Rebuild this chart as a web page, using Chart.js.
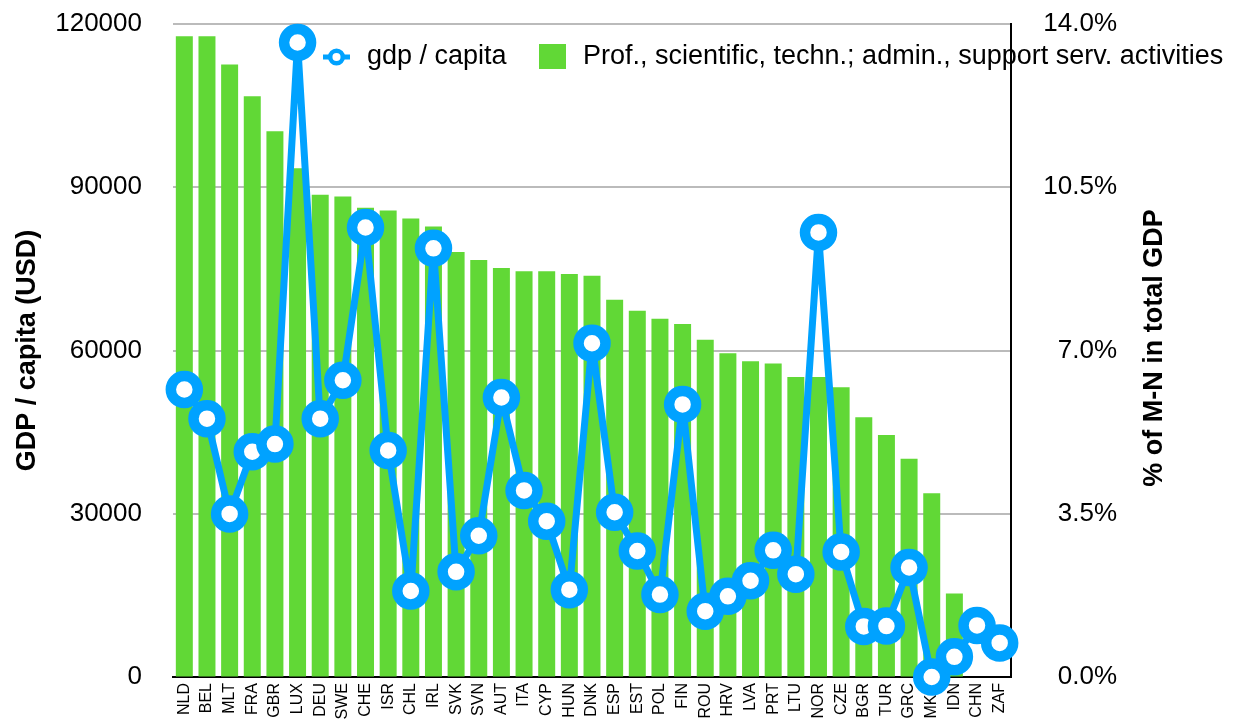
<!DOCTYPE html>
<html>
<head>
<meta charset="utf-8">
<script src="https://cdn.jsdelivr.net/npm/chart.js@4.4.1/dist/chart.umd.min.js"></script>
<style>
  body { margin: 0; background: #fff; }
  #wrap { position: relative; width: 1239px; height: 720px; }
</style>
</head>
<body>
<div id="wrap"><canvas id="mychart"></canvas></div>
<script>
const countries = ['NLD', 'BEL', 'MLT', 'FRA', 'GBR', 'LUX', 'DEU', 'SWE', 'CHE', 'ISR', 'CHL', 'IRL',
    'SVK', 'SVN', 'AUT', 'ITA', 'CYP', 'HUN', 'DNK', 'ESP', 'EST', 'POL', 'FIN', 'ROU', 'HRV', 'LVA',
    'PRT', 'LTU', 'NOR', 'CZE', 'BGR', 'TUR', 'GRC', 'MKD', 'IDN', 'CHN', 'ZAF'];

// share of sector M-N in total GDP (%)
const shareMN = [13.74, 13.74, 13.13, 12.45, 11.70, 10.91, 10.34, 10.30, 10.06, 10.0, 9.83, 9.66,
    9.11, 8.94, 8.77, 8.70, 8.70, 8.64, 8.60, 8.09, 7.85, 7.68, 7.57, 7.23, 6.94, 6.77,
    6.72, 6.43, 6.43, 6.21, 5.57, 5.19, 4.68, 3.94, 1.79, null, null];

// gdp per capita (USD)
const gdpCapita = [52830, 47470, 29970, 41400, 42800, 116600, 47470, 54530, 82600, 41640, 15800, 78780,
    19330, 25960, 51370, 34290, 28630, 16050, 61330, 30270, 23160, 15140, 50090, 12100, 14830, 17690,
    23280, 18900, 81700, 22980, 9300, 9360, 20120, 0, 3700, 9480, 6260];

const gdpTicks = [0, 30000, 60000, 90000, 120000];
const shareTicks = [0, 3.5, 7, 10.5, 14];

const lineLabel = 'gdp / capita';
const barLabel = 'Prof., scientific, techn.; admin., support serv. activities';
const leftTitle = 'GDP / capita (USD)';
const rightTitle = '% of M-N in total GDP';

const BLUE = '#00A2FF';
const GREEN = '#61D836';
const FONT = '"Liberation Sans", Arial, Helvetica, sans-serif';

// legend inside the plot + right axis title reading bottom to top
const extras = {
    id: 'extras',
    beforeDraw(chart) {
        const ctx = chart.ctx;
        ctx.save();
        // line marker
        ctx.strokeStyle = BLUE;
        ctx.lineWidth = 5;
        ctx.beginPath();
        ctx.moveTo(323, 57);
        ctx.lineTo(350, 57);
        ctx.stroke();
        ctx.fillStyle = '#fff';
        ctx.lineWidth = 4.5;
        ctx.beginPath();
        ctx.arc(336.5, 57, 6.3, 0, Math.PI * 2);
        ctx.fill();
        ctx.stroke();
        // bar marker
        ctx.fillStyle = GREEN;
        ctx.fillRect(539, 44, 27, 25);
        // texts
        ctx.fillStyle = '#000';
        ctx.font = '27px ' + FONT;
        ctx.textBaseline = 'middle';
        ctx.textAlign = 'left';
        ctx.fillText(lineLabel, 367, 57);
        ctx.fillText(barLabel, 583, 57);
        // right title
        ctx.translate(1155, 348);
        ctx.rotate(-Math.PI / 2);
        ctx.textAlign = 'center';
        ctx.font = 'bold 27px ' + FONT;
        ctx.fillText(rightTitle, 0, 0);
        ctx.restore();
    }
};

let myChart = document.getElementById('mychart').getContext('2d');

let comboChart = new Chart(myChart, {
    type: 'bar',
    data: {
        labels: countries,
        datasets: [{
            type: 'line',
            label: lineLabel,
            data: gdpCapita,
            yAxisID: 'y',
            order: 0,
            borderColor: BLUE,
            borderWidth: 7,
            borderJoinStyle: 'round',
            tension: 0,
            pointRadius: 13.5,
            pointBorderWidth: 10.5,
            pointBackgroundColor: '#fff',
            pointBorderColor: BLUE,
            clip: false
        }, {
            type: 'bar',
            label: barLabel,
            data: shareMN,
            yAxisID: 'y1',
            order: 1,
            backgroundColor: GREEN,
            categoryPercentage: 0.75,
            barPercentage: 1
        }]
    },
    options: {
        responsive: true,
        maintainAspectRatio: false,
        animation: false,
        events: [],
        layout: { padding: { top: 0, left: 0, right: 122, bottom: 0 } },
        plugins: {
            legend: { display: false },
            tooltip: { enabled: false }
        },
        scales: {
            x: {
                grid: { display: false, drawTicks: false },
                border: { display: true, color: '#000', width: 2 },
                ticks: {
                    autoSkip: false,
                    maxRotation: 90,
                    minRotation: 90,
                    padding: 6,
                    color: '#000',
                    font: { family: FONT, size: 16 }
                },
                afterFit(scale) { scale.height = 43; }
            },
            y: {
                position: 'left',
                min: 0,
                max: 120000,
                afterBuildTicks(scale) { scale.ticks = gdpTicks.map(v => ({ value: v })); },
                grid: { color: '#bbbbbb', lineWidth: 2, drawTicks: true, tickLength: 28, tickColor: 'rgba(0,0,0,0)' },
                border: { display: false },
                ticks: {
                    padding: 3,
                    color: '#000',
                    font: { family: FONT, size: 26 },
                    callback: v => String(v)
                },
                title: {
                    display: true,
                    text: leftTitle,
                    color: '#000',
                    padding: { top: 11, bottom: 0 },
                    font: { family: FONT, size: 27, weight: 'bold' }
                },
                afterFit(scale) { scale.width = 173; }
            },
            y1: {
                position: 'right',
                min: 0,
                max: 14,
                afterBuildTicks(scale) { scale.ticks = shareTicks.map(v => ({ value: v })); },
                grid: { drawOnChartArea: false, drawTicks: false },
                border: { display: true, color: '#000', width: 2 },
                ticks: {
                    padding: 3,
                    crossAlign: 'far',
                    color: '#000',
                    font: { family: FONT, size: 26 },
                    callback: v => v.toFixed(1) + '%'
                },
                afterFit(scale) { scale.width = 106; }
            }
        }
    },
    plugins: [extras]
});
</script>
</body>
</html>
